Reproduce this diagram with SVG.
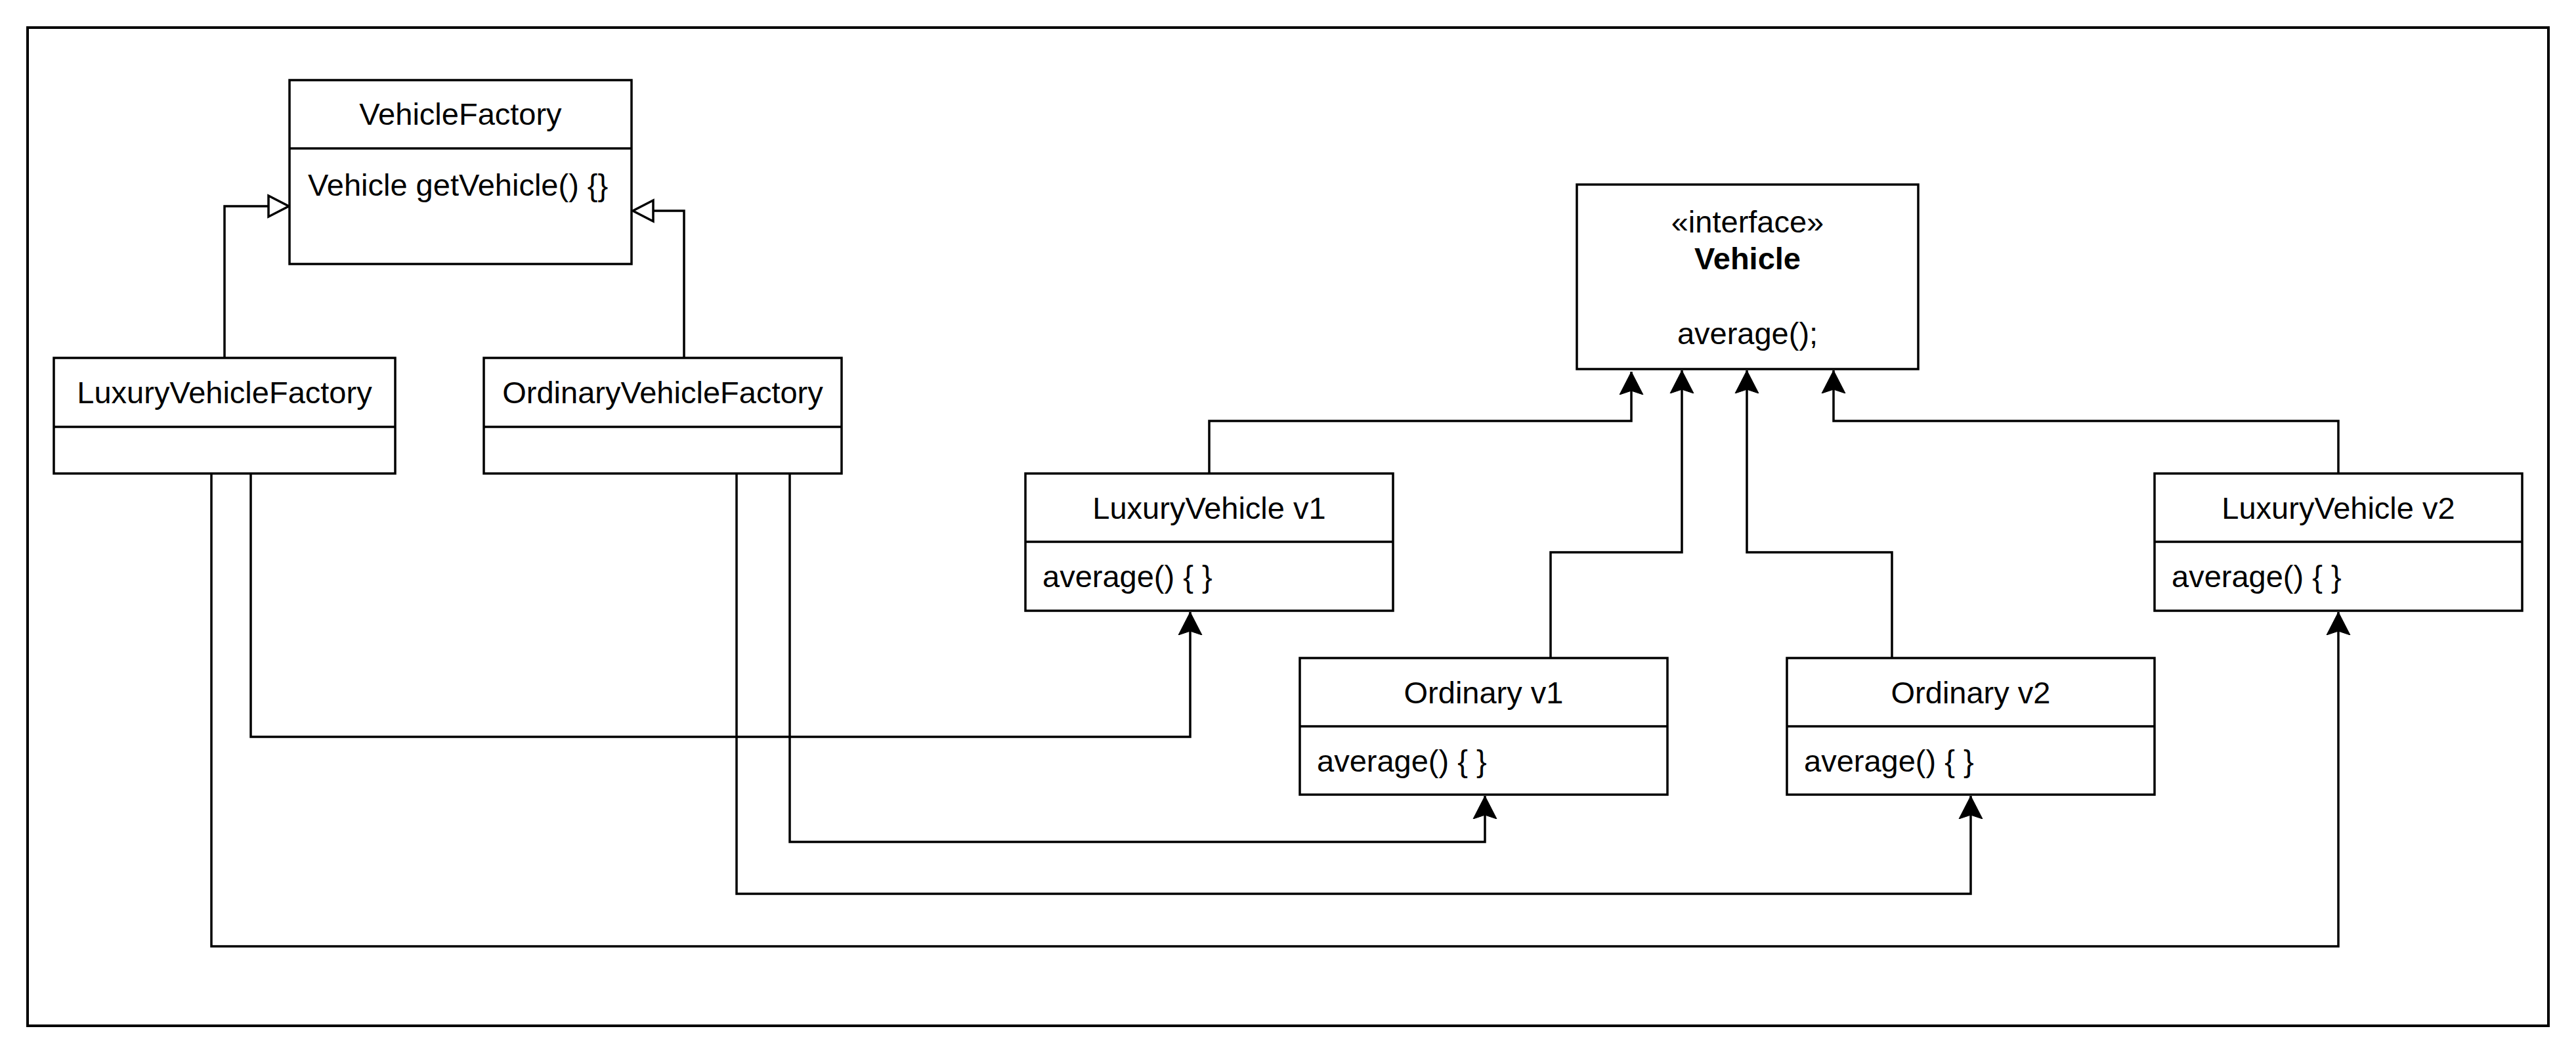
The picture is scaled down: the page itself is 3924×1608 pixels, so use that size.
<svg xmlns="http://www.w3.org/2000/svg" width="3924" height="1608" viewBox="0 0 3924 1608">
<style>
.box{fill:#fff;stroke:#000;stroke-width:3.5}
.div{stroke:#000;stroke-width:3.5;fill:none}
.t{font-family:"Liberation Sans",Arial,Helvetica,sans-serif;font-size:47px;fill:#000}
.c{text-anchor:middle}
.b{font-weight:bold}
.edge{fill:none;stroke:#000;stroke-width:3.5;stroke-linejoin:miter}
.arrow{marker-end:url(#arr)}
.gen{marker-end:url(#tri)}
</style>
<defs>
<marker id="arr" markerUnits="userSpaceOnUse" viewBox="0 0 36 38" refX="35" refY="19" markerWidth="36" markerHeight="38" orient="auto">
<path d="M35,19 L0,1 L6,19 L0,37 Z" fill="#000" stroke="#000" stroke-width="1"/>
</marker>
<marker id="tri" markerUnits="userSpaceOnUse" viewBox="-4 -4 40 40" refX="31" refY="16" markerWidth="40" markerHeight="40" orient="auto">
<path d="M0,0 L31,16 L0,32 Z" fill="#fff" stroke="#000" stroke-width="3.5"/>
</marker>
</defs>
<rect x="0" y="0" width="3924" height="1608" fill="#fff"/>
<rect id="frame" x="42" y="42" width="3840" height="1520" fill="none" stroke="#000" stroke-width="4"/>

<g id="connectors">
<path class="edge gen" d="M342,545 V314 H440"/>
<path class="edge gen" d="M1042,545 V321 H964"/>
<path class="edge arrow" d="M1842,721 V641 H2485 V566"/>
<path class="edge arrow" d="M2362,1002 V841 H2562 V564"/>
<path class="edge arrow" d="M2882,1002 V841 H2661 V564"/>
<path class="edge arrow" d="M3562,721 V641 H2793 V564"/>
<path class="edge arrow" d="M382,721 V1122 H1813 V932"/>
<path class="edge arrow" d="M322,721 V1441 H3562 V932"/>
<path class="edge arrow" d="M1203,721 V1282 H2262 V1212"/>
<path class="edge arrow" d="M1122,721 V1361 H3002 V1212"/>
</g>

<g id="VehicleFactory">
<rect class="box" x="441" y="122" width="521" height="280"/>
<line class="div" x1="441" y1="226" x2="962" y2="226"/>
<text class="t c" x="701.5" y="190">VehicleFactory</text>
<text class="t" x="469" y="298">Vehicle getVehicle() {}</text>
</g>

<g id="LuxuryVehicleFactory">
<rect class="box" x="82" y="545" width="520" height="176"/>
<line class="div" x1="82" y1="650" x2="602" y2="650"/>
<text class="t c" x="342" y="614">LuxuryVehicleFactory</text>
</g>

<g id="OrdinaryVehicleFactory">
<rect class="box" x="737" y="545" width="545" height="176"/>
<line class="div" x1="737" y1="650" x2="1282" y2="650"/>
<text class="t c" x="1009.5" y="614">OrdinaryVehicleFactory</text>
</g>

<g id="Vehicle">
<rect class="box" x="2402" y="281" width="520" height="281"/>
<text class="t c" x="2662" y="354">«interface»</text>
<text class="t c b" x="2662" y="410">Vehicle</text>
<text class="t c" x="2662" y="524">average();</text>
</g>

<g id="LuxuryVehicleV1">
<rect class="box" x="1562" y="721" width="560" height="209"/>
<line class="div" x1="1562" y1="825" x2="2122" y2="825"/>
<text class="t c" x="1842" y="790">LuxuryVehicle v1</text>
<text class="t" x="1588" y="894">average() { }</text>
</g>

<g id="OrdinaryV1">
<rect class="box" x="1980" y="1002" width="560" height="208"/>
<line class="div" x1="1980" y1="1106" x2="2540" y2="1106"/>
<text class="t c" x="2260" y="1071">Ordinary v1</text>
<text class="t" x="2006" y="1175">average() { }</text>
</g>

<g id="OrdinaryV2">
<rect class="box" x="2722" y="1002" width="560" height="208"/>
<line class="div" x1="2722" y1="1106" x2="3282" y2="1106"/>
<text class="t c" x="3002" y="1071">Ordinary v2</text>
<text class="t" x="2748" y="1175">average() { }</text>
</g>

<g id="LuxuryVehicleV2">
<rect class="box" x="3282" y="721" width="560" height="209"/>
<line class="div" x1="3282" y1="825" x2="3842" y2="825"/>
<text class="t c" x="3562" y="790">LuxuryVehicle v2</text>
<text class="t" x="3308" y="894">average() { }</text>
</g>
</svg>
